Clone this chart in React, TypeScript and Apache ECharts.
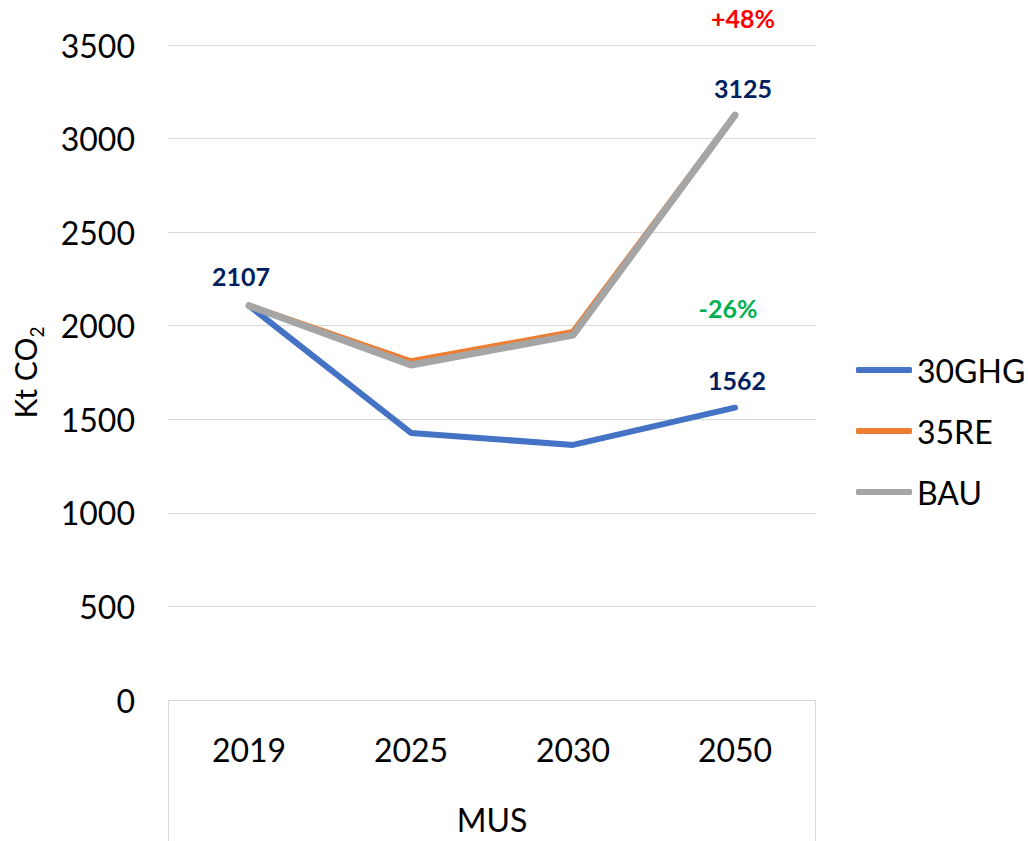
import React, { useEffect, useRef } from "react";
import * as echarts from "echarts";

const categories = ["2019", "2025", "2030", "2050"];
const ghg30 = [2107, 1427, 1363, 1562];
const re35 = [2107, 1810, 1967, 3125];
const bau = [2107, 1790, 1950, 3125];
const yTicks = { min: 0, max: 3500, interval: 500 };
const groupName = "MUS";
const annotations = [
  { text: "+48%", color: "#FF0000" },
  { text: "-26%", color: "#00B050" },
];

const FONT = "Lato";
const GRID = { left: 168, right: 212, top: 45, bottom: 141 };

export default function App() {
  const ref = useRef<HTMLDivElement>(null);
  useEffect(() => {
    if (!ref.current) return;
    const chart = echarts.init(ref.current, null, { renderer: "svg" });
    const labelStyle = {
      fontFamily: FONT,
      fontWeight: "bold" as const,
      fontSize: 25,
      color: "#002060",
    };
    const ghgData = ghg30.map((v, i) => {
      if (i === 0) return { value: v, label: { show: true, position: "top", distance: 17, offset: [-8, 0], ...labelStyle } };
      if (i === 3) return { value: v, label: { show: true, position: "top", distance: 15, offset: [2, 0], ...labelStyle } };
      return v;
    });
    const bauData = bau.map((v, i) => {
      if (i === 3) return { value: v, label: { show: true, position: "top", distance: 15, offset: [8, 0], ...labelStyle } };
      return v;
    });
    const w = 1028;
    const h = 841;
    const hiddenSymbol = { symbol: "circle", symbolSize: 0.01, showSymbol: true };
    chart.setOption({
      animation: false,
      grid: { ...GRID, containLabel: false, outerBoundsMode: "none" },
      legend: {
        orient: "vertical",
        left: 851,
        top: 345,
        itemGap: 21,
        itemWidth: 56,
        itemHeight: 6,
        icon: "roundRect",
        textStyle: { fontFamily: FONT, fontSize: 32, color: "#000", lineHeight: 40 },
        data: ["30GHG", "35RE", "BAU"],
      },
      xAxis: {
        type: "category",
        data: categories,
        boundaryGap: true,
        axisLine: { lineStyle: { color: "#D9D9D9", width: 1 } },
        axisTick: { show: false },
        axisLabel: { fontFamily: FONT, fontSize: 32, color: "#000", margin: 33 },
        name: groupName,
        nameLocation: "middle",
        nameGap: 103,
        nameTextStyle: { fontFamily: FONT, fontSize: 32, color: "#000" },
      },
      yAxis: {
        type: "value",
        min: yTicks.min,
        max: yTicks.max,
        interval: yTicks.interval,
        axisLine: { show: false },
        axisTick: { show: false },
        splitLine: { lineStyle: { color: "#D9D9D9", width: 1 } },
        axisLabel: { fontFamily: FONT, fontSize: 32, color: "#000", margin: 33, formatter: (v: number) => String(v) },
        name: "{a|Kt CO}{s|2}",
        nameLocation: "middle",
        nameRotate: 90,
        nameGap: 128,
        nameTextStyle: {
          rich: {
            a: { fontFamily: FONT, fontSize: 30, color: "#000", lineHeight: 36, verticalAlign: "bottom" },
            s: { fontFamily: FONT, fontSize: 19, color: "#000", lineHeight: 36, verticalAlign: "bottom", padding: [0, 0, -6, 0] },
          },
        },
      },
      series: [
        {
          name: "30GHG",
          type: "line",
          data: ghgData,
          ...hiddenSymbol,
          lineStyle: { color: "#4472C4", width: 6, cap: "round", join: "round" },
          itemStyle: { color: "#4472C4" },
          z: 3,
        },
        {
          name: "35RE",
          type: "line",
          data: re35,
          ...hiddenSymbol,
          lineStyle: { color: "#ED7D31", width: 6, cap: "round", join: "round" },
          itemStyle: { color: "#ED7D31" },
          z: 2,
        },
        {
          name: "BAU",
          type: "line",
          data: bauData,
          ...hiddenSymbol,
          lineStyle: { color: "#A5A5A5", width: 7, cap: "round", join: "round" },
          itemStyle: { color: "#A5A5A5" },
          z: 3,
        },
      ],
      graphic: [
        { type: "line", shape: { x1: GRID.left + 0.5, y1: h - GRID.bottom, x2: GRID.left + 0.5, y2: h }, style: { stroke: "#D9D9D9", lineWidth: 1 } },
        { type: "line", shape: { x1: w - GRID.right - 0.5, y1: h - GRID.bottom, x2: w - GRID.right - 0.5, y2: h }, style: { stroke: "#D9D9D9", lineWidth: 1 } },
        {
          type: "text",
          x: 743,
          y: 18,
          style: { text: annotations[0].text, fill: annotations[0].color, font: `bold 25px ${FONT}`, align: "center", verticalAlign: "middle" },
        },
        {
          type: "text",
          x: 728,
          y: 308,
          style: { text: annotations[1].text, fill: annotations[1].color, font: `bold 25px ${FONT}`, align: "center", verticalAlign: "middle" },
        },
      ],
    });
    return () => chart.dispose();
  }, []);
  return <div ref={ref} style={{ width: 1028, height: 841, position: "absolute", left: 0, top: 0 }} />;
}
